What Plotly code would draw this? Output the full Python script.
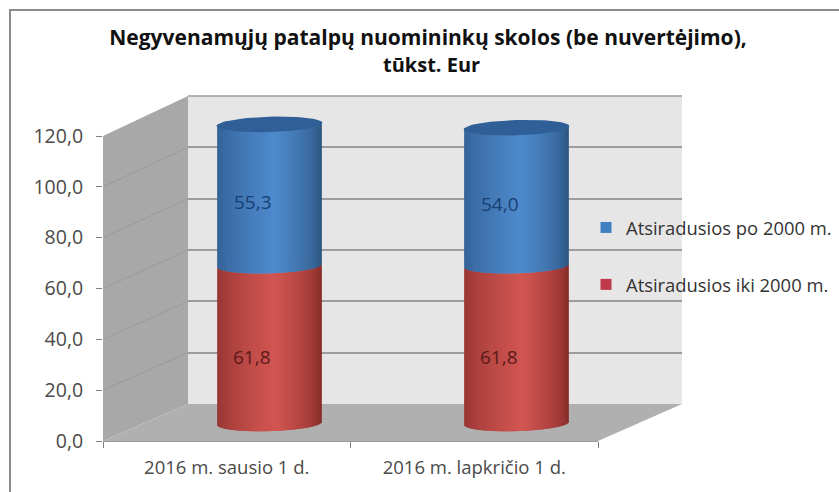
import math
import plotly.graph_objects as go

categories = ["2016 m. sausio 1 d.", "2016 m. lapkričio 1 d."]
series_after = [55.3, 54.0]
series_before = [61.8, 61.8]
name_after = "Atsiradusios po 2000 m."
name_before = "Atsiradusios iki 2000 m."
title_line1 = "Negyvenamųjų patalpų nuomininkų skolos (be nuvertėjimo),"
title_line2 = "tūkst. Eur"
y_ticks = [0, 20, 40, 60, 80, 100, 120]

W, H = 839, 492
FONT = "Open Sans"
LEFT = 103


def fx(px):
    return px / W


def fy(px):
    return 1 - px / H


def shade(u, dark_l, mid, dark_r):
    t = (u + 1) / 2
    peak = 0.55
    if t < peak:
        s = (t / peak) ** 0.7
        a, b = dark_l, mid
    else:
        s = ((1 - t) / (1 - peak)) ** 0.6
        a, b = dark_r, mid
    return "rgb(%d,%d,%d)" % tuple(round(a[i] + (b[i] - a[i]) * s) for i in range(3))


N = 105
CYL_W = 0.428
TILT = 0.6
LIP = 3.0
us = [-1 + (2 * i + 1) / N for i in range(N)]
STRIP = CYL_W / N * 2.0


def strips(bottoms, tops, lip_top, dark_l, mid, dark_r):
    xs, base, hgt, col = [], [], [], []
    for c in range(len(categories)):
        for u in us:
            curve = math.sqrt(max(0, 1 - u * u)) * LIP
            b = bottoms[c] + TILT * u - curve
            t = tops[c] + TILT * u - (curve if lip_top else 0)
            xs.append(c + u * (CYL_W - STRIP) / 2)
            base.append(b)
            hgt.append(t - b)
            col.append(shade(u, dark_l, mid, dark_r))
    return xs, base, hgt, col


totals = [a + b for a, b in zip(series_after, series_before)]
fig = go.Figure()

# back wall subplot: keeps gridlines underneath the cylinders
fig.add_trace(go.Scatter(x=[0], y=[0], xaxis="x", yaxis="y", mode="markers",
                         marker=dict(opacity=0), showlegend=False, hoverinfo="skip"))

rx, rb, rh, rc = strips([0, 0], series_before, True, (150, 52, 50), (210, 86, 82), (132, 42, 40))
fig.add_trace(go.Bar(x=rx, y=rh, base=rb, width=STRIP, xaxis="x2", yaxis="y2",
                     marker=dict(color=rc, line=dict(width=0)), showlegend=False, name=name_before))
bx, bb, bh, bc = strips(series_before, totals, False, (52, 96, 150), (78, 138, 204), (44, 84, 126))
fig.add_trace(go.Bar(x=bx, y=bh, base=bb, width=STRIP, xaxis="x2", yaxis="y2",
                     marker=dict(color=bc, line=dict(width=0)), showlegend=False, name=name_after))

for c, total in enumerate(totals):
    cx, cy = [], []
    for k in range(73):
        a = 2 * math.pi * k / 72
        cx.append(c + math.cos(a) * CYL_W / 2)
        cy.append(total + TILT * math.cos(a) + LIP * math.sin(a))
    fig.add_trace(go.Scatter(x=cx, y=cy, xaxis="x2", yaxis="y2", mode="lines", fill="toself",
                             fillcolor="#2f5f96", line=dict(width=0, color="#2f5f96"),
                             showlegend=False, hoverinfo="skip"))

# legend entries
fig.add_trace(go.Scatter(x=[None], y=[None], xaxis="x2", yaxis="y2", mode="markers", name=name_after,
                         legendgroup="a", marker=dict(symbol="square", size=11, color="#3f7fc0")))
fig.add_trace(go.Scatter(x=[None], y=[None], xaxis="x2", yaxis="y2", mode="markers", name=name_before,
                         legendgroup="b", marker=dict(symbol="square", size=11, color="#c0394b")))

# front axes subplot: tick labels
fig.add_trace(go.Bar(x=categories, y=[None, None], xaxis="x3", yaxis="y3", showlegend=False, hoverinfo="skip"))

annotations = [dict(x=431 / W, y=fy(64), xref="paper", yref="paper", text=title_line2, showarrow=False,
                    xanchor="center", yanchor="middle",
                    font=dict(family=FONT, size=20, color="#111111", weight="bold"))]
for c in range(len(categories)):
    annotations.append(dict(x=c, y=series_before[c] / 2, xref="x2", yref="y2", xshift=-18, yshift=-12,
                            text=f"{series_before[c]:.1f}".replace(".", ","), showarrow=False,
                            font=dict(family=FONT, size=19, color="#5a1a18")))
    annotations.append(dict(x=c, y=series_before[c] + series_after[c] / 2, xref="x2", yref="y2", xshift=-17, yshift=-7,
                            text=f"{series_after[c]:.1f}".replace(".", ","), showarrow=False,
                            font=dict(family=FONT, size=19, color="#173f72")))

WALL = "#a8a8a8"
FLOOR = "#b0b0b0"
shapes = [
    dict(type="path", xref="paper", yref="paper", layer="below", line=dict(width=0), fillcolor="#e6e6e6",
         path=f"M{fx(188)},{fy(96)} L{fx(682)},{fy(96)} L{fx(682)},{fy(404)} L{fx(188)},{fy(404)} Z"),
    dict(type="path", xref="paper", yref="paper", layer="below", line=dict(width=0), fillcolor=WALL,
         path=f"M{fx(LEFT)},{fy(136)} L{fx(188)},{fy(96)} L{fx(188)},{fy(404)} L{fx(LEFT)},{fy(441)} Z"),
    dict(type="path", xref="paper", yref="paper", layer="below", line=dict(width=0), fillcolor=FLOOR,
         path=f"M{fx(LEFT)},{fy(441)} L{fx(188)},{fy(404)} L{fx(682)},{fy(404)} L{fx(598)},{fy(441)} Z"),
    dict(type="line", xref="paper", yref="paper", layer="below", x0=fx(188), y0=fy(96), x1=fx(682), y1=fy(96),
         line=dict(color="#9c9c9c", width=1.5)),
    # chart frame
    dict(type="path", xref="paper", yref="paper", layer="below", line=dict(width=2, color="#8c8c8c"),
         path=f"M{fx(10)},{fy(492)} L{fx(10)},{fy(10)} L{fx(839)},{fy(10)}"),
]
for t in y_ticks[1:-1]:
    yf = 441 - t / 120 * 305
    yb = 404 - t / 120 * 308
    shapes.append(dict(type="line", xref="paper", yref="paper", layer="below",
                       x0=fx(LEFT), y0=fy(yf), x1=fx(188), y1=fy(yb), line=dict(color="#9a9a9a", width=1)))

fig.update_layout(
    template="none",
    width=W, height=H, autosize=False,
    margin=dict(l=0, r=0, t=0, b=0),
    paper_bgcolor="white", plot_bgcolor="rgba(0,0,0,0)",
    barmode="overlay", separators=",.",
    title=dict(text=title_line1, x=428 / W, xanchor="center", y=fy(38), yanchor="middle",
               font=dict(family=FONT, size=21, color="#111111", weight="bold")),
    legend=dict(x=fx(586), y=fy(209), xanchor="left", yanchor="top", bgcolor="rgba(0,0,0,0)",
                tracegroupgap=30, font=dict(family=FONT, size=18.4, color="#333333"),
                itemwidth=30),
    xaxis=dict(domain=[fx(188), fx(682)], range=[-0.5, 1.5], visible=False, anchor="y", automargin=False),
    yaxis=dict(domain=[fy(404), fy(96)], range=[0, 120], tickvals=y_ticks, showticklabels=False, ticks="",
               showgrid=True, gridcolor="#9c9c9c", gridwidth=1.5, zeroline=False, showline=False, anchor="x",
               automargin=False),
    xaxis2=dict(domain=[fx(146), fx(640)], range=[-0.5, 1.5], visible=False, anchor="y2", automargin=False),
    yaxis2=dict(domain=[fy(449), fy(104.2)], range=[-10, 125], visible=False, anchor="x2", automargin=False),
    xaxis3=dict(domain=[fx(LEFT), fx(598)], type="category", categoryorder="array", categoryarray=categories,
                tickson="boundaries", ticks="outside", ticklen=6, tickcolor="#808080", showline=True,
                linecolor="#9a9a9a", tickfont=dict(family=FONT, size=18.5, color="#4a4a4a"), showgrid=False,
                anchor="y3", automargin=False, ticklabelstandoff=10),
    yaxis3=dict(domain=[fy(441), fy(136)], range=[0, 120], tickvals=y_ticks, tickformat=".1f", ticks="outside",
                ticklen=6, tickcolor="#808080", showline=False, showgrid=False, zeroline=False,
                tickfont=dict(family=FONT, size=19.5, color="#4a4a4a"), anchor="x3", automargin=False,
                ticklabelstandoff=9),
    shapes=shapes, annotations=annotations,
)

fig.write_html("out.html", config=dict(displayModeBar=False),
               post_script="document.body.style.margin='0';document.documentElement.style.overflow='hidden';")
